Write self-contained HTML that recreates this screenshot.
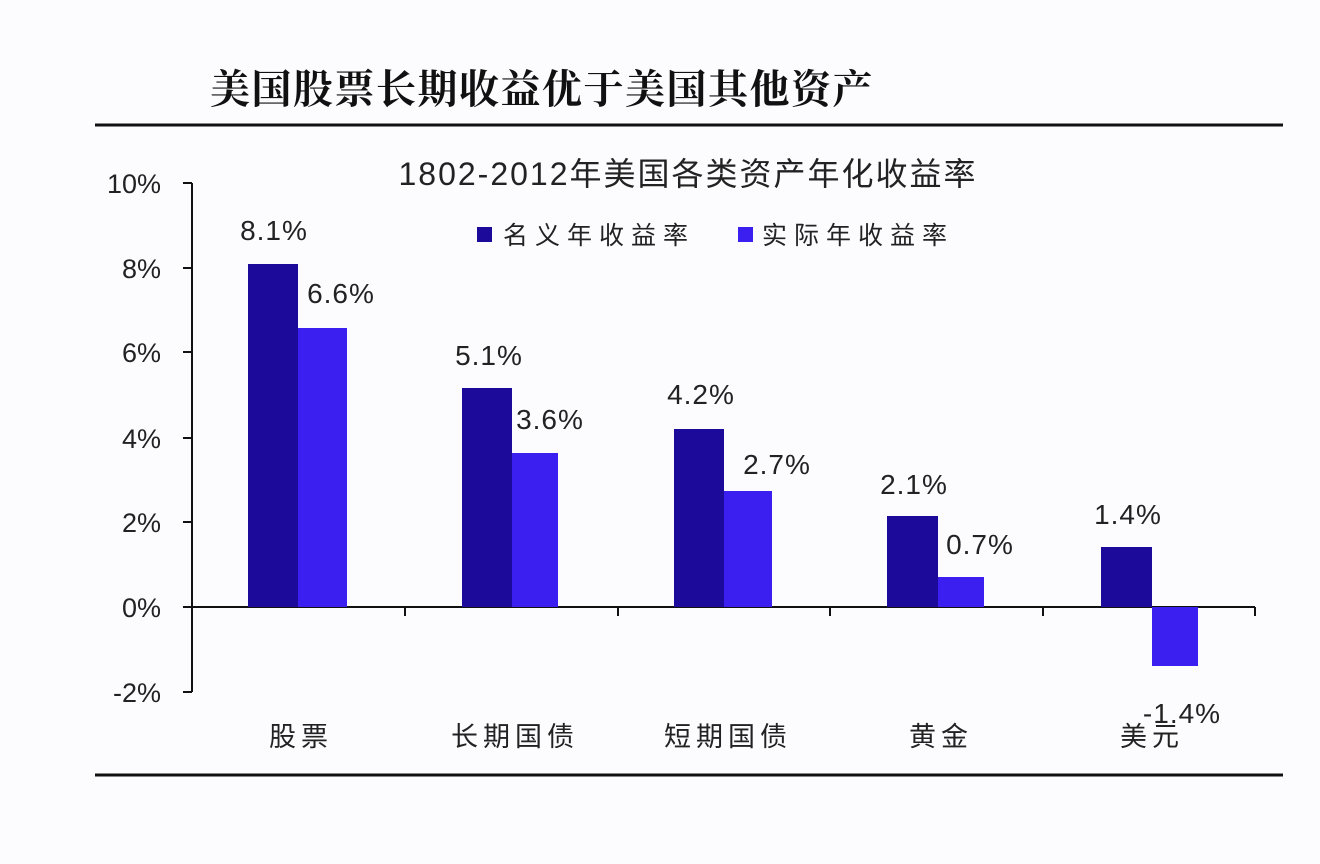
<!DOCTYPE html>
<html><head><meta charset="utf-8"><style>
body{margin:0;background:#fcfcfe;}
svg{display:block;font-family:"Liberation Sans","Noto Sans CJK SC",sans-serif;}
</style></head><body>
<svg width="1320" height="864" viewBox="0 0 1320 864">
<rect width="1320" height="864" fill="#fcfcfe"/>
<text x="210" y="103" font-size="40" font-weight="bold" letter-spacing="1.5" font-family="'Noto Serif CJK SC','Noto Sans CJK SC',serif" fill="#111">美国股票长期收益优于美国其他资产</text>
<line x1="95" y1="125" x2="1283" y2="125" stroke="#111" stroke-width="3"/>
<text x="688" y="185" font-size="32" text-anchor="middle" letter-spacing="2" fill="#222">1802-2012年美国各类资产年化收益率</text>
<rect x="477" y="227" width="15" height="15" fill="#1c0a9a"/>
<text x="503" y="244" font-size="25" letter-spacing="7" fill="#222">名义年收益率</text>
<rect x="738" y="227" width="15" height="15" fill="#3a1ff0"/>
<text x="762" y="244" font-size="25" letter-spacing="7" fill="#222">实际年收益率</text>
<g stroke="#111" stroke-width="2">
<line x1="192" y1="183" x2="192" y2="692"/>
<line x1="183" y1="183" x2="192" y2="183"/><line x1="183" y1="268" x2="192" y2="268"/>
<line x1="183" y1="352" x2="192" y2="352"/><line x1="183" y1="438" x2="192" y2="438"/>
<line x1="183" y1="522" x2="192" y2="522"/><line x1="183" y1="607" x2="192" y2="607"/>
<line x1="183" y1="692" x2="192" y2="692"/>
<line x1="192" y1="607" x2="1255" y2="607"/>
<line x1="405" y1="607" x2="405" y2="616"/><line x1="618" y1="607" x2="618" y2="616"/>
<line x1="830" y1="607" x2="830" y2="616"/><line x1="1043" y1="607" x2="1043" y2="616"/>
<line x1="1255" y1="607" x2="1255" y2="616"/>
</g>
<g font-size="27" text-anchor="end" fill="#222">
<text x="161" y="193">10%</text><text x="161" y="278">8%</text><text x="161" y="362">6%</text>
<text x="161" y="448">4%</text><text x="161" y="532">2%</text><text x="161" y="617">0%</text>
<text x="161" y="702">-2%</text>
</g>
<g fill="#1c0a9a">
<rect x="248" y="264" width="50" height="343"/>
<rect x="462" y="388" width="50" height="219"/>
<rect x="674" y="429" width="50" height="178"/>
<rect x="887" y="516" width="51" height="91"/>
<rect x="1101" y="547" width="51" height="60"/>
</g>
<g fill="#3a1ff0">
<rect x="298" y="328" width="49" height="279"/>
<rect x="512" y="453" width="46" height="154"/>
<rect x="724" y="491" width="48" height="116"/>
<rect x="938" y="577" width="46" height="30"/>
<rect x="1152" y="607" width="46" height="59"/>
</g>
<g font-size="28" text-anchor="middle" fill="#222" letter-spacing="1">
<text x="274" y="240">8.1%</text><text x="341" y="303">6.6%</text>
<text x="489" y="365">5.1%</text><text x="550" y="429">3.6%</text>
<text x="701" y="404">4.2%</text><text x="777" y="474">2.7%</text>
<text x="914" y="494">2.1%</text><text x="980" y="554">0.7%</text>
<text x="1128" y="524">1.4%</text><text x="1182" y="723">-1.4%</text>
</g>
<g font-size="27" text-anchor="middle" fill="#222" letter-spacing="5">
<text x="301" y="746">股票</text><text x="515" y="746">长期国债</text>
<text x="728" y="746">短期国债</text><text x="941" y="746">黄金</text>
<text x="1152" y="746">美元</text>
</g>
<line x1="95" y1="775" x2="1283" y2="775" stroke="#111" stroke-width="3"/>
</svg>
</body></html>
